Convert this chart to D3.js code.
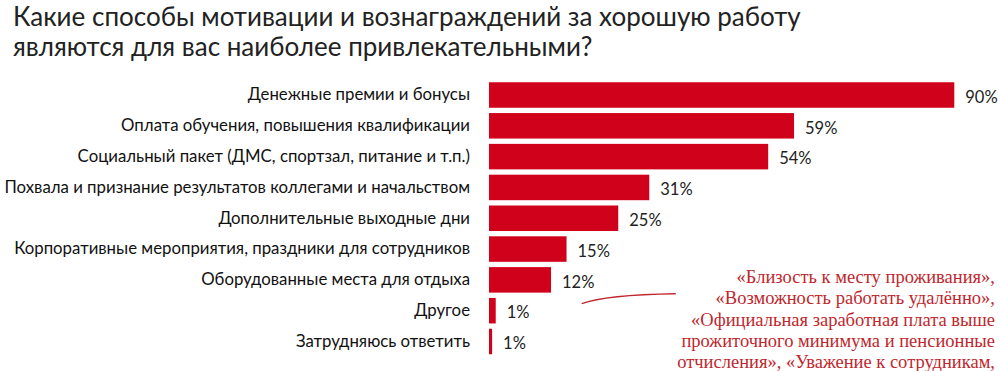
<!DOCTYPE html>
<html>
<head>
<meta charset="utf-8">
<script src="https://cdn.jsdelivr.net/npm/d3@7"></script>
<style>
  html, body { margin: 0; padding: 0; background: #fff; }
  svg { display: block; }
</style>
</head>
<body>
<div id="chart"></div>
<script>
// Survey answers, share of respondents (%)
const categories = [
  'Денежные премии и бонусы',
  'Оплата обучения, повышения квалификации',
  'Социальный пакет (ДМС, спортзал, питание и т.п.)',
  'Похвала и признание результатов коллегами и начальством',
  'Дополнительные выходные дни',
  'Корпоративные мероприятия, праздники для сотрудников',
  'Оборудованные места для отдыха',
  'Другое',
  'Затрудняюсь ответить'
];
const values = [90, 59, 54, 31, 25, 15, 12, 1.3, 0.6];
const valueLabels = ['90%', '59%', '54%', '31%', '25%', '15%', '12%', '1%', '1%'];

const titleLines = [
  'Какие способы мотивации и вознаграждений за хорошую работу',
  'являются для вас наиболее привлекательными?'
];
const noteLines = [
  '«Близость к месту проживания»,',
  '«Возможность работать удалённо»,',
  '«Официальная заработная плата выше',
  'прожиточного минимума и пенсионные',
  'отчисления», «Уважение к сотрудникам,'
];

const width = 1000, height = 371;
const sans = "Lato, 'Open Sans', sans-serif";

const svg = d3.select('#chart')
  .append('svg')
  .attr('width', width)
  .attr('height', height);

svg.append('rect').attr('width', width).attr('height', height).attr('fill', '#fff');

// Title
svg.append('g')
  .selectAll('text')
  .data(titleLines)
  .enter()
  .append('text')
  .attr('x', 13)
  .attr('y', (d, i) => 26 + i * 30)
  .style('font-family', sans)
  .style('font-size', '26px')
  .style('fill', '#222')
  .text(d => d);

// Scales
const x = d3.scaleLinear().domain([0, 100]).range([489, 1006]);
const y = d3.scaleBand()
  .domain(categories)
  .range([79.6, 356.9])
  .paddingInner(0.172)
  .paddingOuter(0.086);

// Bars
svg.append('g')
  .selectAll('rect')
  .data(values)
  .enter()
  .append('rect')
  .attr('x', x(0))
  .attr('y', (d, i) => y(categories[i]))
  .attr('width', d => x(d) - x(0))
  .attr('height', y.bandwidth())
  .attr('fill', '#d0021b');

// Category labels (left axis, no line/ticks)
const yAxis = svg.append('g')
  .attr('transform', `translate(${x(0)},0)`)
  .call(d3.axisLeft(y).tickSize(0).tickPadding(19));
yAxis.select('.domain').remove();
yAxis.selectAll('text')
  .style('font-family', sans)
  .style('font-size', '16.8px')
  .style('fill', '#111');

// Value labels
svg.append('g')
  .selectAll('text')
  .data(values)
  .enter()
  .append('text')
  .attr('x', d => x(d) + 11)
  .attr('y', (d, i) => y(categories[i]) + y.bandwidth() / 2 + 2)
  .attr('dy', '0.35em')
  .style('font-family', sans)
  .style('font-size', '16.5px')
  .style('fill', '#222')
  .text((d, i) => valueLabels[i]);

// Annotation for "Другое"
const noteColor = '#c0272d';
svg.append('g')
  .selectAll('text')
  .data(noteLines)
  .enter()
  .append('text')
  .attr('x', 995)
  .attr('y', (d, i) => 283 + i * 21.3)
  .attr('text-anchor', 'end')
  .style('font-family', "'Liberation Serif', 'DejaVu Serif', serif")
  .style('font-size', '18.5px')
  .style('fill', noteColor)
  .text(d => d);

const otherMid = y('Другое') + y.bandwidth() / 2;
const curve = d3.path();
curve.moveTo(x(1.3) + 86, otherMid - 7);
curve.quadraticCurveTo(x(1.3) + 110, otherMid - 16, x(1.3) + 180, otherMid - 17);
svg.append('path')
  .attr('d', curve.toString())
  .attr('fill', 'none')
  .attr('stroke', noteColor)
  .attr('stroke-width', 1.4);
</script>
</body>
</html>
